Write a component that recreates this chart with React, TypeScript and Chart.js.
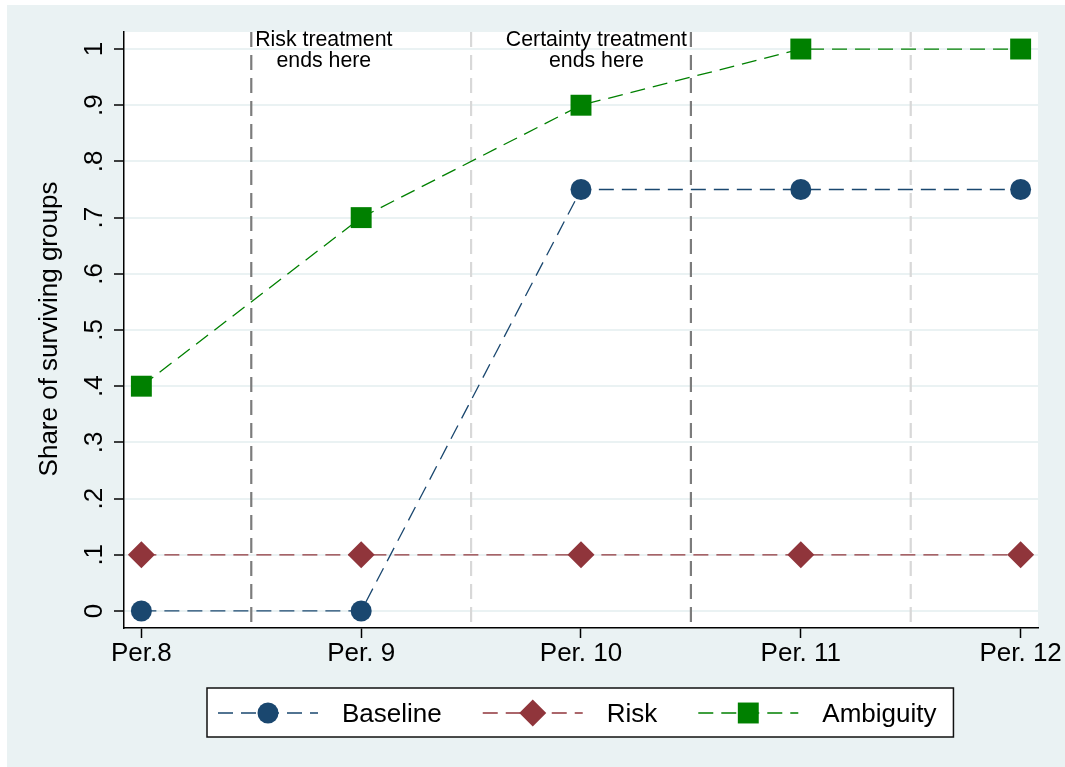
import React, { useEffect, useRef } from 'react';
import { Chart, registerables } from 'chart.js';

Chart.register(...registerables);

// ---------- data ----------
const periods = [8, 9, 10, 11, 12];
const periodLabels = ['Per.8', 'Per. 9', 'Per. 10', 'Per. 11', 'Per. 12'];
const seriesNames = ['Baseline', 'Risk', 'Ambiguity'];
const baselineValues = [0, 0, 0.75, 0.75, 0.75];
const riskValues = [0.1, 0.1, 0.1, 0.1, 0.1];
const ambiguityValues = [0.4, 0.7, 0.9, 1, 1];
const yTickValues = [0, 0.1, 0.2, 0.3, 0.4, 0.5, 0.6, 0.7, 0.8, 0.9, 1];
const yTickLabels = ['0', '.1', '.2', '.3', '.4', '.5', '.6', '.7', '.8', '.9', '1'];
const yTitle = 'Share of surviving groups';
const refLineX = [8.5, 9.5, 10.5, 11.5];
const refLineDark = [true, false, true, false];
const annotationX = [8.83, 10.07];
const annotationY = [1, 1];
const annotationText = [
  ['Risk treatment', 'ends here'],
  ['Certainty treatment', 'ends here'],
];

// ---------- styles ----------
const FONT = '"Liberation Sans", Arial, Helvetica, sans-serif';
const COLORS = ['#1A476F', '#90353B', '#008000'];
const SHAPES = ['circle', 'rectRot', 'rect'];
const RADII = [10.5, 13.5, 14.8];
const DASH = [15, 8];
const OUTER_BG = '#EAF2F3';

function drawMarker(ctx: CanvasRenderingContext2D, shape: string, x: number, y: number, r: number, color: string) {
  ctx.save();
  ctx.fillStyle = color;
  ctx.setLineDash([]);
  ctx.beginPath();
  if (shape === 'circle') {
    ctx.arc(x, y, r, 0, Math.PI * 2);
  } else if (shape === 'rectRot') {
    ctx.moveTo(x - r, y);
    ctx.lineTo(x, y - r);
    ctx.lineTo(x + r, y);
    ctx.lineTo(x, y + r);
    ctx.closePath();
  } else {
    const h = Math.SQRT1_2 * r;
    ctx.rect(x - h, y - h, 2 * h, 2 * h);
  }
  ctx.fill();
  ctx.restore();
}

const stataPlugin = {
  id: 'stataDecor',
  beforeDraw(chart: any) {
    const { ctx, width, height, chartArea: a } = chart;
    ctx.save();
    ctx.fillStyle = '#ffffff';
    ctx.fillRect(0, 0, width, height);
    ctx.fillStyle = OUTER_BG;
    ctx.fillRect(7, 5, width - 7, height - 5);
    ctx.fillStyle = '#ffffff';
    ctx.fillRect(a.left, a.top, a.right - a.left, a.bottom - a.top);
    ctx.restore();
  },
  beforeDatasetsDraw(chart: any) {
    const { ctx, chartArea: a } = chart;
    const xs = chart.scales.x;
    ctx.save();
    refLineX.forEach((v, i) => {
      const px = xs.getPixelForValue(v);
      ctx.strokeStyle = refLineDark[i] ? '#7c7c7c' : '#d8d8d8';
      ctx.lineWidth = 2.2;
      ctx.setLineDash([15, 8]);
      ctx.beginPath();
      ctx.moveTo(px, a.top);
      ctx.lineTo(px, a.bottom);
      ctx.stroke();
    });
    ctx.restore();
  },
  afterDraw(chart: any) {
    const { ctx } = chart;
    const xs = chart.scales.x;
    const ys = chart.scales.y;
    ctx.save();
    ctx.fillStyle = '#000';
    // y tick labels (rotated)
    ctx.font = `26px ${FONT}`;
    ctx.textAlign = 'center';
    ctx.textBaseline = 'alphabetic';
    yTickValues.forEach((v, i) => {
      const py = ys.getPixelForValue(v);
      ctx.save();
      ctx.translate(101.5, py);
      ctx.rotate(-Math.PI / 2);
      ctx.fillText(yTickLabels[i], 0, 0);
      ctx.restore();
    });
    // y title
    ctx.font = `26px ${FONT}`;
    ctx.save();
    ctx.translate(57, (ys.top + ys.bottom) / 2 - 1);
    ctx.rotate(-Math.PI / 2);
    ctx.fillText(yTitle, 0, 0);
    ctx.restore();
    // annotations
    ctx.font = `21.3px ${FONT}`;
    annotationText.forEach((lines, i) => {
      const px = xs.getPixelForValue(annotationX[i]);
      const py = ys.getPixelForValue(annotationY[i]);
      lines.forEach((t, j) => {
        ctx.fillText(t, px, py - 3 + j * 21);
      });
    });
    // legend
    ctx.font = `26px ${FONT}`;
    const startX = 218;
    const cy = 713;
    const widths = seriesNames.map((n) => ctx.measureText(n).width);
    let x = startX;
    const itemX: number[] = [];
    widths.forEach((w) => {
      itemX.push(x);
      x = x + 124 + w + 41;
    });
    const lastEnd = itemX[itemX.length - 1] + 124 + widths[widths.length - 1];
    ctx.fillStyle = '#ffffff';
    ctx.fillRect(207, 688, lastEnd + 17 - 207, 49);
    ctx.strokeStyle = '#111';
    ctx.lineWidth = 1.5;
    ctx.setLineDash([]);
    ctx.strokeRect(207, 688, lastEnd + 17 - 207, 49);
    seriesNames.forEach((n, i) => {
      const lx = itemX[i];
      ctx.save();
      ctx.strokeStyle = COLORS[i];
      ctx.lineWidth = 1.3;
      ctx.setLineDash(DASH);
      ctx.beginPath();
      ctx.moveTo(lx, cy);
      ctx.lineTo(lx + 100, cy);
      ctx.stroke();
      ctx.restore();
      drawMarker(ctx, SHAPES[i], lx + 50, cy, RADII[i], COLORS[i]);
      ctx.fillStyle = '#000';
      ctx.textAlign = 'left';
      ctx.fillText(n, lx + 124, 722);
    });
    ctx.restore();
  },
};

function makeDataset(name: string, values: number[], i: number) {
  return {
    label: name,
    data: periods.map((p, k) => ({ x: p, y: values[k] })),
    borderColor: COLORS[i],
    backgroundColor: COLORS[i],
    borderWidth: 1.3,
    borderDash: DASH,
    pointStyle: SHAPES[i],
    pointRadius: RADII[i],
    pointBorderWidth: 0,
    pointBackgroundColor: COLORS[i],
    pointBorderColor: COLORS[i],
    tension: 0,
    fill: false,
    clip: false as any,
  };
}

export default function App() {
  const ref = useRef<HTMLCanvasElement | null>(null);
  useEffect(() => {
    if (!ref.current) return;
    const chart = new Chart(ref.current, {
      type: 'line',
      data: {
        datasets: [
          makeDataset(seriesNames[0], baselineValues, 0),
          makeDataset(seriesNames[1], riskValues, 1),
          makeDataset(seriesNames[2], ambiguityValues, 2),
        ],
      },
      options: {
        animation: false,
        responsive: false,
        devicePixelRatio: 1,
        layout: { padding: { left: 0, top: 32, right: 27, bottom: 0 } },
        plugins: { legend: { display: false }, tooltip: { enabled: false } },
        scales: {
          x: {
            type: 'linear',
            min: 7.921,
            max: 12.079,
            afterBuildTicks: (s: any) => {
              s.ticks = periods.map((v) => ({ value: v }));
            },
            afterFit: (s: any) => {
              s.height = 767 - 628;
              s.paddingLeft = 0;
              s.paddingRight = 0;
            },
            ticks: {
              autoSkip: false,
              maxRotation: 0,
              minRotation: 0,
              padding: 0,
              color: '#000',
              font: { family: FONT, size: 26 },
              callback: (v: any) => {
                const k = periods.indexOf(Number(v));
                return k >= 0 ? periodLabels[k] : '';
              },
            },
            grid: {
              drawOnChartArea: false,
              drawTicks: true,
              tickLength: 10,
              tickColor: '#000',
              tickWidth: 1.5,
            },
            border: { display: true, color: '#000', width: 1.5 },
          },
          y: {
            type: 'linear',
            min: -0.0303,
            max: 1.0303,
            afterBuildTicks: (s: any) => {
              s.ticks = yTickValues.map((v) => ({ value: v }));
            },
            afterFit: (s: any) => {
              s.width = 124;
              s.paddingTop = 0;
              s.paddingBottom = 0;
            },
            ticks: { display: false },
            grid: {
              color: OUTER_BG,
              lineWidth: 2,
              drawTicks: true,
              tickLength: 10,
              tickColor: '#000',
              tickWidth: 1.5,
            },
            border: { display: true, color: '#000', width: 1.5 },
          },
        },
      } as any,
      plugins: [stataPlugin],
    });
    return () => chart.destroy();
  }, []);
  return (
    <div style={{ position: 'fixed', left: 0, top: 0, width: 1065, height: 767 }}>
      <canvas ref={ref} width={1065} height={767} style={{ display: 'block' }} />
    </div>
  );
}
